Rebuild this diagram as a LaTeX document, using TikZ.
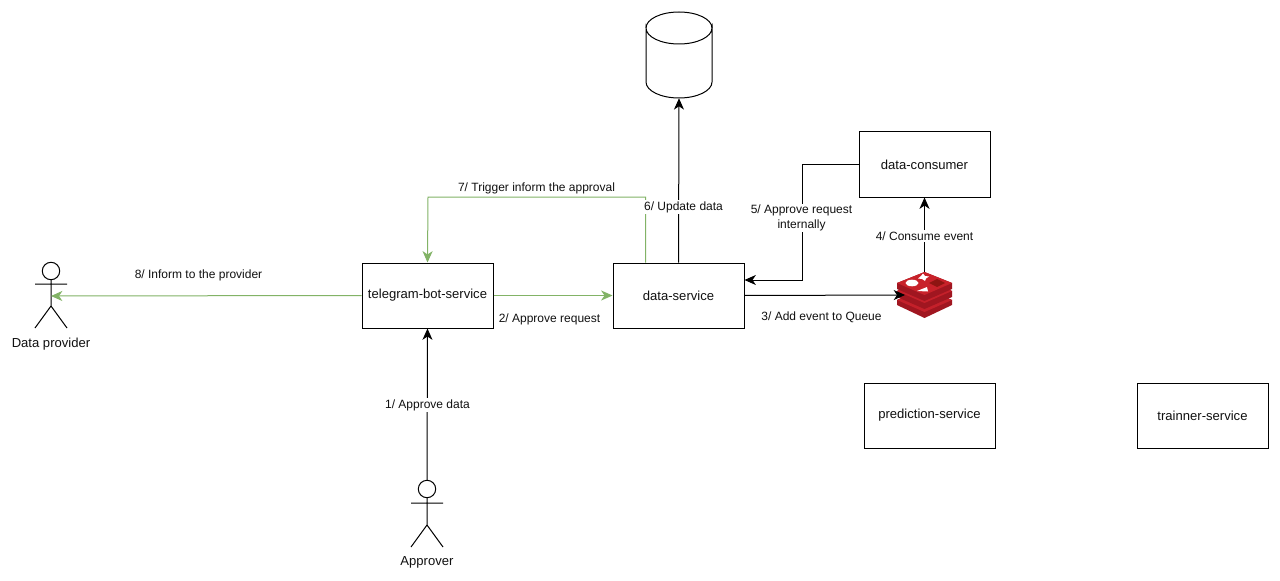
\documentclass[tikz,border=0pt]{standalone}
\usepackage{fontspec}
\setmainfont{Liberation Sans}
\usetikzlibrary{arrows.meta,calc}
\definecolor{gline}{HTML}{82B366}
\definecolor{txt}{HTML}{111111}
\definecolor{rA}{HTML}{C4202A}
\definecolor{rB}{HTML}{A01620}
\definecolor{rC}{HTML}{C8222A}
\definecolor{rD}{HTML}{8E1512}
\tikzset{
  x=0.75pt,y=-0.75pt,
  every node/.style={font=\fontsize{9pt}{11.25pt}\selectfont,text=txt},
  big/.style={font=\fontsize{9.8pt}{11.8pt}\selectfont},
  box/.style={draw=black,line width=0.75pt,fill=white,minimum width=98.25pt,minimum height=48.75pt,inner sep=0pt,anchor=center,big},
  lab/.style={fill=white,inner sep=1pt,align=center},
  bare/.style={inner sep=0pt,align=center},
  conn/.style={draw=black,line width=0.75pt,-{Stealth[length=8.5pt,width=7.5pt,inset=2.5pt]}},
  gconn/.style={draw=gline,line width=0.75pt,-{Stealth[length=8.5pt,width=7.5pt,inset=2.5pt]}},
  stick/.style={draw=black,line width=0.75pt},
}
\begin{document}
\begin{tikzpicture}
\useasboundingbox (0,0) rectangle (1280,581);
\fill[white] (0,0) rectangle (1280,581);
% boxes
\node[box] (tg) at (427.5,295.5) {telegram-bot-service};
\node[box] (ds) at (678.5,295.5) {data-service};
\node[box] (dc) at (924.5,164.5) {data-consumer};
\node[box] (ps) at (929.5,415.5) {prediction-service};
\node[box] (ts) at (1202.5,415.5) {trainner-service};
% cylinder
\node[minimum width=49.5pt,minimum height=64.5pt,inner sep=0pt] (db) at (679,55) {};
\draw[black,line width=0.75pt,fill=white] (646,28) arc[x radius=33,y radius=16,start angle=180,end angle=0] -- (712,82) arc[x radius=33,y radius=16,start angle=0,end angle=180] -- cycle;
\draw[black,line width=0.75pt] (646,28) arc[x radius=33,y radius=16,start angle=180,end angle=360];
% redis icon
\node[minimum width=41.25pt,minimum height=34.5pt,inner sep=0pt] (redis) at (924.5,295) {};
\begin{scope}
\fill[rB] (897,300) -- (924.5,288) -- (952,300) -- (952,305) -- (924.5,318) -- (897,305) -- cycle;
\fill[rA] (897,300) -- (924.5,288) -- (952,300) -- (924.5,312) -- cycle;
\fill[rB] (897,291) -- (924.5,279) -- (952,291) -- (952,297) -- (924.5,309) -- (897,297) -- cycle;
\fill[rA] (897,291) -- (924.5,279) -- (952,291) -- (924.5,303) -- cycle;
\fill[rB] (897,283) -- (924.5,272) -- (952,283) -- (952,289) -- (924.5,301) -- (897,289) -- cycle;
\fill[rC] (897,283) -- (924.5,272) -- (952,283) -- (924.5,295) -- cycle;
\fill[white] (912,283) ellipse[x radius=6.5,y radius=3.3];
\fill[white] (921,276) -- (923,273.5) -- (925,276) -- (929,276.5) -- (926,278.5) -- (925,281) -- (922,279) -- (918,278.5) -- cycle;
\fill[white] (917,291) -- (927,287) -- (928,291.5) -- cycle;
\fill[rD] (929,283) -- (937,279) -- (945,283) -- (937,287) -- cycle;
\end{scope}
% actors
\coordinate (prov) at (51,296);
\draw[stick] (51,271) circle[radius=8.7];
\draw[stick] (51,280) -- (51,306) (35,284) -- (67,284) (35,328) -- (51,306) -- (67,328);
\node[bare,big] (provl) at (51,344) {Data provider};
\coordinate (appr) at (427,480);
\draw[stick] (427,489) circle[radius=8.7];
\draw[stick] (427,498) -- (427,525) (411,503) -- (443,503) (411,547) -- (427,525) -- (443,547);
\node[bare,big] (apprl) at (427,562) {Approver};
% anchor points
\coordinate (ds7) at ($(ds.north west)!0.25!(ds.north east)$);
\coordinate (tg7) at (tg.north);
\coordinate (ds5) at ($(ds.east)+(0,-15.5)$);
\coordinate (r3) at ($(redis.center)+(-19.5,0)$);
\coordinate (r4) at (redis.north);
% connectors
\draw[conn] (appr) -- (tg.south);
\draw[gconn] (tg.east) -- (ds.west);
\draw[conn] (ds.east) -- (r3);
\draw[conn] (r4) -- (dc.south);
\draw[conn] (dc.west) -| (802,280) -- (ds5);
\draw[conn] (ds.north) -- (db.south);
\draw[gconn] (ds7) |- (428,197) -- (tg7);
\draw[gconn] (tg.west) -- (prov);
% labels
\node[lab] (l1) at (427.5,405) {1/ Approve data};
\node[bare] (l2) at (549.5,319) {2/ Approve request};
\node[bare] (l3) at (821.5,317) {3/ Add event to Queue};
\node[lab] (l4) at (924.5,236) {4/ Consume event};
\node[lab] (l5) at (801.5,218) {5/ Approve request\\internally};
\node[lab] (l6) at (683.5,207) {6/ Update data};
\node[lab] (l7) at (536.5,188) {7/ Trigger inform the approval};
\node[bare] (l8) at (198.5,275) {8/ Inform to the provider};
\end{tikzpicture}
\end{document}
